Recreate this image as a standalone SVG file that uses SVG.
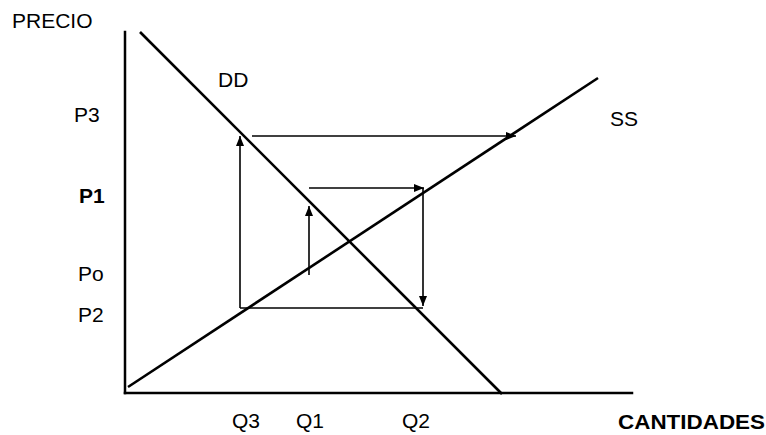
<svg xmlns="http://www.w3.org/2000/svg" width="766" height="435" viewBox="0 0 766 435">
<style>
.t{font-family:"Liberation Sans",Arial,sans-serif;font-size:21px;fill:#000}
.b{font-weight:bold}
.ax{stroke:#000;stroke-width:2.5;fill:none;stroke-linecap:square}
.cv{stroke:#000;stroke-width:2.6;fill:none}
.ar{stroke:#000;stroke-width:1.6;fill:none}
</style>
<defs>
<marker id="ah" viewBox="0 0 10 8" refX="10" refY="4" markerWidth="10" markerHeight="8" markerUnits="userSpaceOnUse" orient="auto">
<path d="M0,0 L10,4 L0,8 z" fill="#000"/>
</marker>
</defs>
<rect width="766" height="435" fill="#fff"/>
<g id="axes">
<line class="ax" x1="125" y1="32" x2="125" y2="393"/>
<line class="ax" x1="125" y1="393" x2="632" y2="393"/>
</g>
<g id="curves">
<line id="DD" class="cv" x1="140" y1="32" x2="502" y2="394"/>
<line id="SS" class="cv" x1="128" y1="387" x2="598" y2="78"/>
</g>
<g id="connectors">
<line class="ar" x1="252" y1="136" x2="516" y2="136" marker-end="url(#ah)"/>
<line class="ar" x1="240" y1="308" x2="240" y2="136" marker-end="url(#ah)"/>
<line class="ar" x1="240" y1="308" x2="423" y2="308"/>
<line class="ar" x1="423" y1="188" x2="423" y2="306" marker-end="url(#ah)"/>
<line class="ar" x1="309" y1="188" x2="424" y2="188" marker-end="url(#ah)"/>
<line class="ar" x1="309" y1="275" x2="309" y2="206" marker-end="url(#ah)"/>
</g>
<g id="labels">
<text class="t" x="12" y="28">PRECIO</text>
<text class="t" x="218" y="87">DD</text>
<text class="t" x="74" y="122">P3</text>
<text class="t" x="610" y="126">SS</text>
<text class="t b" x="79" y="203">P1</text>
<text class="t" x="78" y="281">Po</text>
<text class="t" x="78" y="322">P2</text>
<text class="t" x="232" y="428">Q3</text>
<text class="t" x="296" y="428">Q1</text>
<text class="t" x="402" y="428">Q2</text>
<text class="t b" x="618" y="429" textLength="147" lengthAdjust="spacingAndGlyphs">CANTIDADES</text>
</g>
</svg>
